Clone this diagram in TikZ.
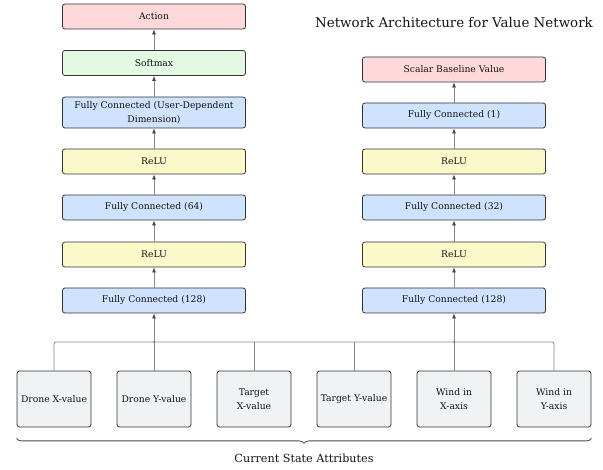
\documentclass[tikz,border=0pt]{standalone}
\usepackage{fontspec}
\setmainfont{DejaVu Serif}
\usetikzlibrary{arrows.meta,decorations.pathreplacing}
\definecolor{cred}{HTML}{FFD8DA}
\definecolor{cgreen}{HTML}{E3F9E3}
\definecolor{cblue}{HTML}{CFE3FE}
\definecolor{cyellow}{HTML}{FBF8CA}
\definecolor{cgray}{HTML}{F1F2F4}
\definecolor{cborder}{HTML}{333333}
\definecolor{cline}{HTML}{8A8A8A}
\begin{document}
\begin{tikzpicture}[x=1pt,y=-1pt,
  box/.style={draw=cborder,line width=0.8pt,rounded corners=2.5pt,inner sep=1pt,
    font=\fontsize{9.2}{13.5}\selectfont,text=black!92,align=center},
  layer/.style={box,minimum width=183pt,minimum height=25pt},
  inbox/.style={box,minimum width=74pt,minimum height=56pt},
  conn/.style={draw=cline,line width=0.7pt},
  arr/.style={conn,-{Latex[length=5pt,width=4pt,color=cborder!90]}},
]
\useasboundingbox (0,0) rectangle (603,470);
% left column
\node[layer,fill=cred]    (act) at (154,16.5) {Action};
\node[layer,fill=cgreen]  (sm)  at (154,63) {Softmax};
\node[layer,fill=cblue,minimum height=31pt] (fcu) at (154,112.5) {Fully Connected (User-Dependent\\Dimension)};
\node[layer,fill=cyellow] (rl2) at (154,161.5) {ReLU};
\node[layer,fill=cblue]   (fc64) at (154,207.5) {Fully Connected (64)};
\node[layer,fill=cyellow] (rl1) at (154,254.5) {ReLU};
\node[layer,fill=cblue]   (fcl) at (154,300.5) {Fully Connected (128)};
% right column
\node[font=\fontsize{13.4}{16}\selectfont,text=black!92] (title) at (454,23) {Network Architecture for Value Network};
\node[layer,fill=cred]    (sbv) at (454,69.5) {Scalar Baseline Value};
\node[layer,fill=cblue]   (fc1) at (454,115.5) {Fully Connected (1)};
\node[layer,fill=cyellow] (rr2) at (454,161.5) {ReLU};
\node[layer,fill=cblue]   (fc32) at (454,207.5) {Fully Connected (32)};
\node[layer,fill=cyellow] (rr1) at (454,254.5) {ReLU};
\node[layer,fill=cblue]   (fcr) at (454,300.5) {Fully Connected (128)};
% inputs
\node[inbox,fill=cgray] (dx) at (54,399) {Drone X-value};
\node[inbox,fill=cgray] (dy) at (154,399) {Drone Y-value};
\node[inbox,fill=cgray] (tx) at (254,399) {Target\\X-value};
\node[inbox,fill=cgray] (ty) at (354,399) {Target Y-value};
\node[inbox,fill=cgray] (wx) at (454,399) {Wind in\\X-axis};
\node[inbox,fill=cgray] (wy) at (554,399) {Wind in\\Y-axis};
% arrows in columns
\draw[arr] (sm) -- (act);
\draw[arr] (fcu) -- (sm);
\draw[arr] (rl2) -- (fcu);
\draw[arr] (fc64) -- (rl2);
\draw[arr] (rl1) -- (fc64);
\draw[arr] (fcl) -- (rl1);
\draw[arr] (fc1) -- (sbv);
\draw[arr] (rr2) -- (fc1);
\draw[arr] (fc32) -- (rr2);
\draw[arr] (rr1) -- (fc32);
\draw[arr] (fcr) -- (rr1);
% bus
\coordinate (busl) at (154,342);
\coordinate (busr) at (454,342);
\draw[conn,rounded corners=2.5pt] (dx.north) |- (busl) -- (busr) -| (wy.north);
\draw[conn] (tx.north) -- (tx.north |- busl);
\draw[conn] (ty.north) -- (ty.north |- busl);
\draw[arr] (dy.north) -- (fcl.south);
\draw[arr] (wx.north) -- (fcr.south);
\fill[cline!80!black] (busl) circle (1pt) (busr) circle (1pt);
% brace
\draw[cborder!90,line width=0.8pt,decorate,decoration={brace,mirror,amplitude=5pt}]
  (dx.south west) ++(0,11) coordinate (brl) -- (wy.south east |- brl) coordinate (brr);
\node[font=\fontsize{11.2}{13}\selectfont,text=black!92] (cap) at (304,458) {Current State Attributes};
\end{tikzpicture}
\end{document}
